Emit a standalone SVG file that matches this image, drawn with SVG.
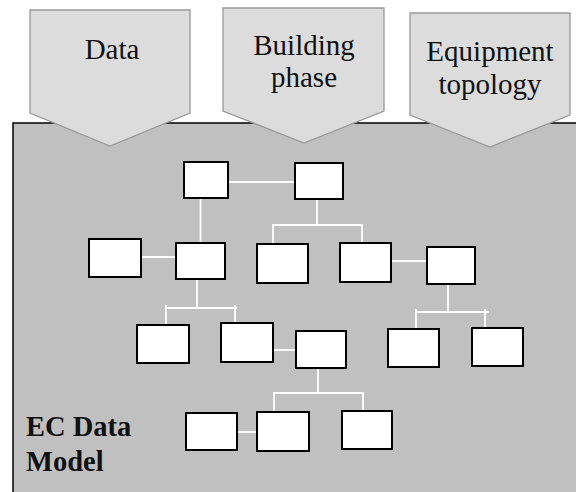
<svg xmlns="http://www.w3.org/2000/svg" width="576" height="492" viewBox="0 0 576 492">
<style>
.bg{fill:#ffffff}
.main{fill:#c0c0c0;stroke:#000;stroke-width:1.5}
.arrow{fill:#dcdcdc;stroke:#999;stroke-width:1.3;stroke-linejoin:miter}
.node{fill:#fff;stroke:#000;stroke-width:2}
.conn{fill:none;stroke:#fff;stroke-width:1.8}
.lbl{font-family:"Liberation Serif","Times New Roman",serif;font-size:29px;fill:#111;text-anchor:middle}
.title{font-family:"Liberation Serif","Times New Roman",serif;font-size:28.5px;font-weight:bold;fill:#111}
</style>
<rect class="bg" x="0" y="0" width="576" height="492"/>
<g id="ec-data-model">
<rect class="main" x="13" y="123" width="570" height="380"/>
<text class="title" x="26" y="436">EC Data</text>
<text class="title" x="26" y="471">Model</text>
</g>
<g id="input-data">
<polygon class="arrow" points="30,10 190,10 190,113 110,146 30,113"/>
<text class="lbl" x="112" y="59">Data</text>
</g>
<g id="input-building-phase">
<polygon class="arrow" points="223,8 384,8 384,111 304,143 223,111"/>
<text class="lbl" x="304" y="55">Building</text>
<text class="lbl" x="304" y="87">phase</text>
</g>
<g id="input-equipment-topology">
<polygon class="arrow" points="410,13 570,13 570,115 490,147 410,115"/>
<text class="lbl" x="490" y="61">Equipment</text>
<text class="lbl" x="490" y="94">topology</text>
</g>
<g id="connectors">
<path class="conn" d="M228,182 H295"/>
<path class="conn" d="M200.5,198 V243"/>
<path class="conn" d="M141,257 H176"/>
<path class="conn" d="M317,199 V225 M273,245 V225 H362 V243"/>
<path class="conn" d="M391,261 H427"/>
<path class="conn" d="M448,284 V312 M416,329 V309 M416,312 H489 M485,309 V328"/>
<path class="conn" d="M197,279 V309 M166,325 V305 M166,308 H237 M235,305 V323"/>
<path class="conn" d="M273,350 H296"/>
<path class="conn" d="M318,368 V393 M274,412 V393 H363 V411"/>
<path class="conn" d="M237,432 H257"/>
</g>
<g id="node-a"><rect class="node" x="184" y="162" width="44" height="36"/></g>
<g id="node-b"><rect class="node" x="295" y="163" width="48" height="36"/></g>
<g id="node-c"><rect class="node" x="176" y="243" width="49" height="36"/></g>
<g id="node-d"><rect class="node" x="89" y="239" width="52" height="38"/></g>
<g id="node-e"><rect class="node" x="257" y="244" width="51" height="39"/></g>
<g id="node-f"><rect class="node" x="340" y="243" width="51" height="39"/></g>
<g id="node-g"><rect class="node" x="427" y="247" width="48" height="37"/></g>
<g id="node-h"><rect class="node" x="388" y="329" width="51" height="38"/></g>
<g id="node-i"><rect class="node" x="472" y="328" width="51" height="38"/></g>
<g id="node-j"><rect class="node" x="137" y="325" width="52" height="38"/></g>
<g id="node-k"><rect class="node" x="221" y="323" width="52" height="39"/></g>
<g id="node-l"><rect class="node" x="296" y="331" width="50" height="37"/></g>
<g id="node-m"><rect class="node" x="186" y="413" width="51" height="37"/></g>
<g id="node-n"><rect class="node" x="257" y="412" width="52" height="39"/></g>
<g id="node-o"><rect class="node" x="342" y="411" width="50" height="38"/></g>
</svg>
